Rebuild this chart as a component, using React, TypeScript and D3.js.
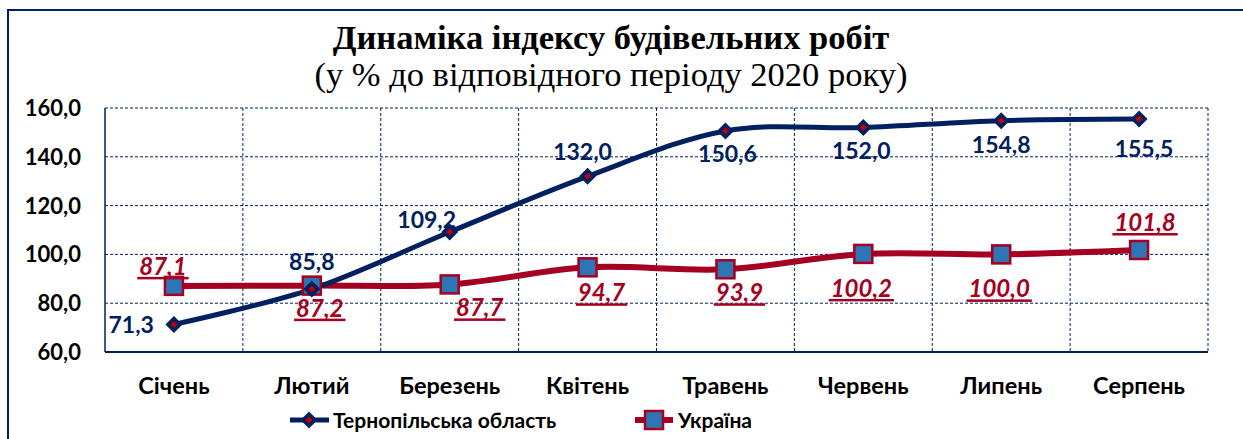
import { useEffect, useRef } from "react";
import * as d3 from "d3";

const months = ["Січень", "Лютий", "Березень", "Квітень", "Травень", "Червень", "Липень", "Серпень"];
const ternopil = [71.3, 85.8, 109.2, 132.0, 150.6, 152.0, 154.8, 155.5];
const ukraine = [87.1, 87.2, 87.7, 94.7, 93.9, 100.2, 100.0, 101.8];
const yTicks = [60, 80, 100, 120, 140, 160];

// label offsets from the point (layout only)
const ternOffsets = [[-20, 9], [0, -19], [-23, -4], [-5, -16], [2, 31], [-2, 31], [0, 32], [5, 38]];
const ukrOffsets = [[-11, -11], [8, 31], [30, 32], [14, 34], [14, 32], [-2, 43], [-2, 43], [6, -19]];

const NAVY = "#002060";
const RED = "#A50021";
const FONT = "Lato, 'Noto Sans', sans-serif";

const fmt = (v: number) => v.toFixed(1).replace(".", ",");

export default function App() {
  const ref = useRef<SVGSVGElement>(null);

  useEffect(() => {
    document.body.style.margin = "0";
    const svg = d3.select(ref.current);
    svg.selectAll("*").remove();

    const W = 1243;
    const H = 439;
    const left = 105, right = 1208, top = 108, bottom = 352;

    svg.append("rect").attr("x", 0).attr("y", 0).attr("width", W).attr("height", H).attr("fill", "#fff");
    // outer frame
    svg.append("rect").attr("x", 8).attr("y", 10).attr("width", W).attr("height", H)
      .attr("fill", "none").attr("stroke", NAVY).attr("stroke-width", 2);

    const x = d3.scaleBand().domain(months).range([left, right]);
    const y = d3.scaleLinear().domain([60, 160]).range([bottom, top]);
    const cx = (i: number) => x(months[i])! + x.bandwidth() / 2;

    // title
    svg.append("text").attr("x", 611).attr("y", 49).attr("text-anchor", "middle")
      .attr("font-family", "'Liberation Serif', serif").attr("font-weight", "bold").attr("font-size", 34.5)
      .text("Динаміка індексу будівельних робіт");
    svg.append("text").attr("x", 611).attr("y", 86).attr("text-anchor", "middle")
      .attr("font-family", "'Liberation Serif', serif").attr("font-size", 34.5)
      .text("(у % до відповідного періоду 2020 року)");

    // grid
    const grid = svg.append("g").attr("stroke", NAVY).attr("stroke-width", 1).attr("stroke-dasharray", "3,2");
    grid.selectAll("line.h").data(yTicks.slice(1)).enter().append("line")
      .attr("x1", left).attr("x2", right).attr("y1", (d) => y(d)).attr("y2", (d) => y(d));
    grid.selectAll("line.v").data(months.slice(1).concat(["end"])).enter().append("line")
      .attr("x1", (d, i) => (i < months.length - 1 ? x(d)! : right))
      .attr("x2", (d, i) => (i < months.length - 1 ? x(d)! : right))
      .attr("y1", top).attr("y2", bottom);
    svg.append("line").attr("x1", left).attr("x2", left).attr("y1", top).attr("y2", bottom)
      .attr("stroke", NAVY).attr("stroke-width", 1.5);
    svg.append("line").attr("x1", left).attr("x2", right).attr("y1", bottom).attr("y2", bottom)
      .attr("stroke", NAVY).attr("stroke-width", 2);

    // y axis labels
    svg.append("g").selectAll("text").data(yTicks).enter().append("text")
      .attr("x", 81).attr("y", (d) => y(d) + 8).attr("text-anchor", "end")
      .attr("font-family", FONT).attr("font-weight", "bold").attr("font-size", 22)
      .text((d) => fmt(d));

    // x axis labels
    svg.append("g").selectAll("text").data(months).enter().append("text")
      .attr("x", (d, i) => cx(i)).attr("y", 394).attr("text-anchor", "middle")
      .attr("font-family", FONT).attr("font-weight", "bold").attr("font-size", 23.5)
      .text((d) => d);

    const line = d3.line<number>().x((d, i) => cx(i)).y((d) => y(d)).curve(d3.curveCardinal.tension(0));

    // Ukraine series
    svg.append("path").attr("d", line(ukraine)).attr("fill", "none").attr("stroke", RED).attr("stroke-width", 6);
    // Ternopil series
    svg.append("path").attr("d", line(ternopil)).attr("fill", "none").attr("stroke", NAVY).attr("stroke-width", 5);

    const diamond = (g: any, px: number, py: number) => {
      g.append("rect").attr("x", px - 6).attr("y", py - 6).attr("width", 12).attr("height", 12)
        .attr("transform", `rotate(45 ${px} ${py})`).attr("fill", NAVY);
      g.append("rect").attr("x", px - 2.5).attr("y", py - 2.5).attr("width", 5).attr("height", 5)
        .attr("transform", `rotate(45 ${px} ${py})`).attr("fill", "#C00000");
    };
    const square = (g: any, px: number, py: number) => {
      g.append("rect").attr("x", px - 9).attr("y", py - 9).attr("width", 18).attr("height", 18)
        .attr("fill", "#2E75B6").attr("stroke", RED).attr("stroke-width", 2.5);
    };

    const ukrMarks = svg.append("g");
    ukraine.forEach((v, i) => square(ukrMarks, cx(i), y(v)));
    const ternMarks = svg.append("g");
    ternopil.forEach((v, i) => diamond(ternMarks, cx(i), y(v)));

    // Ternopil labels
    svg.append("g").selectAll("text").data(ternopil).enter().append("text")
      .attr("x", (d, i) => cx(i) + ternOffsets[i][0])
      .attr("y", (d) => y(d))
      .attr("dy", (d, i) => ternOffsets[i][1])
      .attr("text-anchor", (d, i) => (i === 0 ? "end" : "middle"))
      .attr("font-family", FONT).attr("font-weight", "bold").attr("font-size", 23).attr("fill", NAVY)
      .text((d) => fmt(d));

    // Ukraine labels (italic, underlined)
    const ul = svg.append("g");
    ukraine.forEach((v, i) => {
      const tx = cx(i) + ukrOffsets[i][0];
      const ty = y(v) + ukrOffsets[i][1];
      const t = ul.append("text").attr("x", tx).attr("y", ty).attr("text-anchor", "middle")
        .attr("font-family", FONT).attr("font-weight", "bold").attr("font-style", "italic")
        .attr("font-size", 24).attr("fill", RED).text(fmt(v));
      const w = (t.node() as SVGTextElement).getComputedTextLength();
      ul.append("rect").attr("x", tx - w / 2 - 2).attr("y", ty + 2).attr("width", w + 4).attr("height", 2.5).attr("fill", RED);
    });

    // legend
    const lg = svg.append("g");
    lg.append("line").attr("x1", 290).attr("x2", 329).attr("y1", 420).attr("y2", 420).attr("stroke", NAVY).attr("stroke-width", 5);
    diamond(lg, 309, 420);
    lg.append("text").attr("x", 333).attr("y", 428).attr("font-family", FONT).attr("font-weight", "bold")
      .attr("font-size", 21).text("Тернопільська область");
    lg.append("line").attr("x1", 635).attr("x2", 673).attr("y1", 420).attr("y2", 420).attr("stroke", RED).attr("stroke-width", 6);
    square(lg, 654, 420);
    lg.append("text").attr("x", 678).attr("y", 428).attr("font-family", FONT).attr("font-weight", "bold")
      .attr("font-size", 21).text("Україна");
  }, []);

  return <svg ref={ref} width={1243} height={439} style={{ display: "block" }} />;
}
